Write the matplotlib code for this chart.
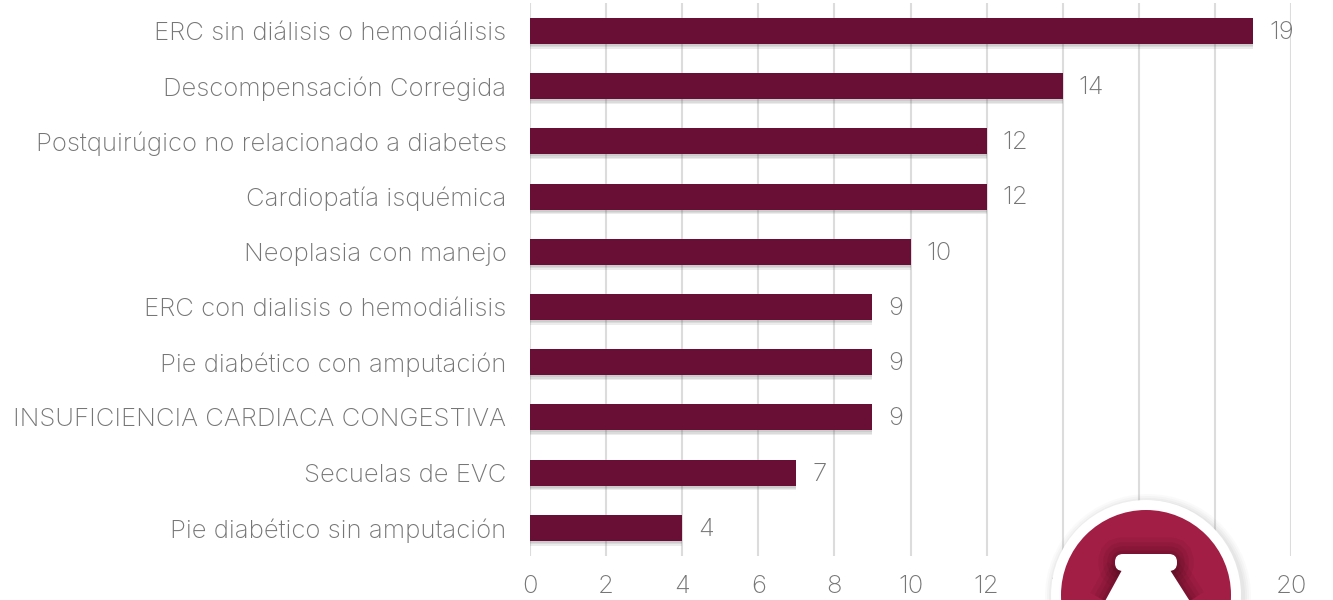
#!/usr/bin/env python
import matplotlib
matplotlib.use('Agg')
import matplotlib.pyplot as plt
import matplotlib.patheffects as pe
from matplotlib.patches import Circle, Polygon, FancyBboxPatch

# Data
categories = ['ERC sin diálisis o hemodiálisis', 'Descompensación Corregida',
              'Postquirúgico no relacionado a diabetes', 'Cardiopatía isquémica',
              'Neoplasia con manejo', 'ERC con dialisis o hemodiálisis',
              'Pie diabético con amputación', 'INSUFICIENCIA CARDIACA CONGESTIVA',
              'Secuelas de EVC', 'Pie diabético sin amputación']
values = [19, 14, 12, 12, 10, 9, 9, 9, 7, 4]
xticks = [0, 2, 4, 6, 8, 10, 12, 14, 16, 18, 20]

W, H = 1333, 600
text_color = '#767676'
font = dict(family='Inter', weight='light')

fig = plt.figure(figsize=(W / 100, H / 100), dpi=100)
ax = fig.add_axes([530 / W, 1 - 556 / H, 761 / W, 553 / H])

bars = ax.barh(range(len(values)), values, height=0.47, color='#690e35', zorder=3)
shadow = [pe.SimplePatchShadow(offset=(0, -d), shadow_rgbFace='#555555', alpha=0.11) for d in (3.5, 2.5, 1.5)]
for bar in bars:
    bar.set_path_effects(shadow + [pe.Normal()])

for i, v in enumerate(values):
    ax.annotate(str(v), (v, i), xytext=(11.5, -1), textcoords='offset points', va='center',
                ha='left', fontsize=18.5, color=text_color, **font)

ax.set_xlim(0, 20)
ax.set_ylim(9.51, -0.507)
ax.set_xticks(xticks)
ax.set_yticks(range(len(categories)))
ax.set_yticklabels(categories, fontsize=18.5, color=text_color, **font)
ax.set_xticklabels([str(t) for t in xticks], fontsize=18.5, color=text_color, **font)
ax.tick_params(axis='both', length=0)
ax.tick_params(axis='y', pad=17)
ax.tick_params(axis='x', pad=14)
ax.grid(axis='x', color='#dcdcdc', linewidth=1.5, zorder=0)
ax.set_axisbelow(True)
for s in ax.spines.values():
    s.set_visible(False)

# logo badge at the bottom, covers the 14-18 tick labels
over = fig.add_axes([0, 0, 1, 1], zorder=10)
over.set_xlim(0, W)
over.set_ylim(H, 0)
over.axis('off')
for r, a in ((103, 0.03), (101, 0.04), (99, 0.05), (97, 0.06)):
    over.add_patch(Circle((1148, 597), r, fc='#777777', ec='none', alpha=a))
over.add_patch(Circle((1146, 595), 95, fc='white', ec='none'))
over.add_patch(Circle((1146, 595), 85, fc='#a21e44', ec='none'))

# vase shape with a soft dark edge inside the red disc
vase = [[1122, 570], [1170, 570], [1191, 603], [1104, 603]]
neck_xy = (1120, 559)
neck_w, neck_h = 52, 7
for lw, a in ((24, 0.07), (17, 0.09), (11, 0.11), (5, 0.12)):
    over.add_patch(Polygon(vase, fc='none', ec='#3a0515', lw=lw, alpha=a, joinstyle='round'))
    over.add_patch(FancyBboxPatch(neck_xy, neck_w, neck_h, boxstyle='round,pad=5,rounding_size=8', fc='none',
                                  ec='#3a0515', lw=lw, alpha=a))
over.add_patch(Polygon(vase, fc='white', ec='none'))
over.add_patch(FancyBboxPatch(neck_xy, neck_w, neck_h, boxstyle='round,pad=5,rounding_size=8', fc='white',
                              ec='none'))

fig.savefig('out.png', dpi=100)
